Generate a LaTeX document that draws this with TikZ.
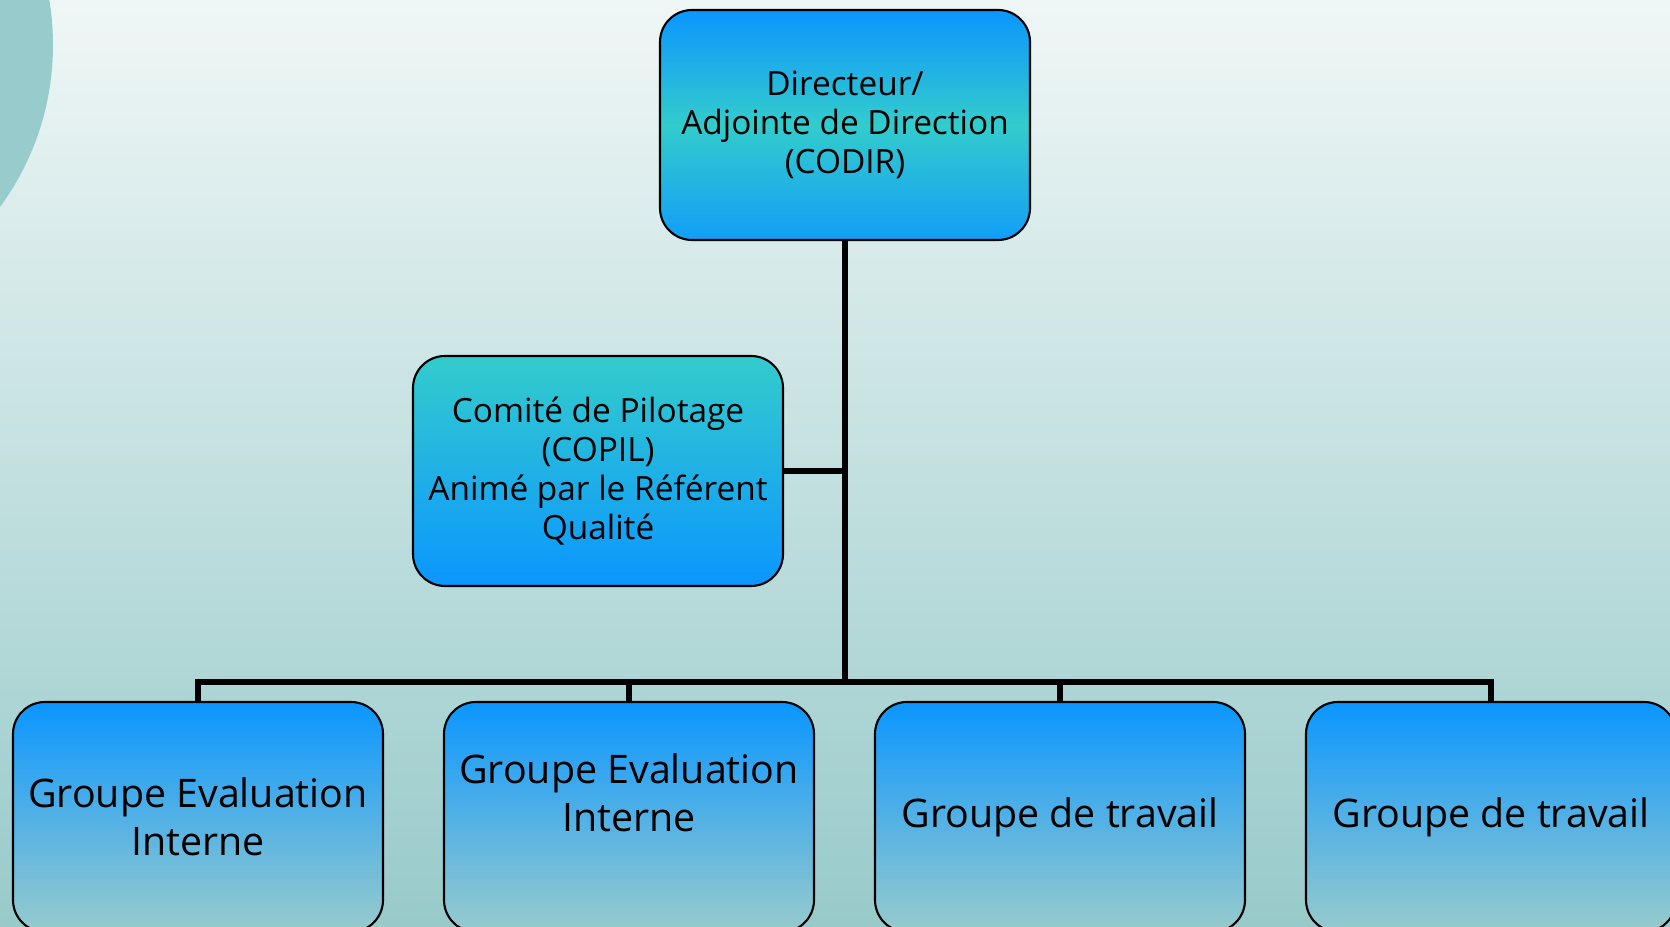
\documentclass[tikz,border=0pt]{standalone}
\usepackage{fontspec}
\setmainfont{Open Sans}
\usepackage{tikz}
\usetikzlibrary{positioning}
\definecolor{bgtop}{HTML}{EFF7F6}
\definecolor{bgbottom}{HTML}{98CACA}
\definecolor{orgblue}{HTML}{0B96FF}
\definecolor{orgteal}{HTML}{33CCCC}
\definecolor{orggrey}{HTML}{98CBCC}
\tikzset{
  orgbox/.style={draw=black, line width=0.6pt, rounded corners=3.2mm,
    minimum width=37mm, minimum height=23mm, align=center, inner sep=1pt},
  headbox/.style={orgbox, top color=orgblue, bottom color=orgblue!85!orgteal,
    middle color=orgteal, font=\fontsize{9.5}{11.1}\selectfont},
  copilbox/.style={orgbox, top color=orgteal, bottom color=orgblue,
    font=\fontsize{9.5}{11.1}\selectfont},
  groupbox/.style={orgbox, top color=orgblue, bottom color=orggrey,
    font=\fontsize{11.2}{13.7}\selectfont},
  link/.style={line width=1.7pt}
}

\begin{document}
\begin{tikzpicture}[x=0.1mm,y=-0.1mm]
  \useasboundingbox (0,0) rectangle (1670,927);
  \clip (0,0) rectangle (1670,927);
  % background
  \shade[top color=bgtop, bottom color=bgbottom] (0,0) rectangle (1670,927);
  \fill[orggrey] (-221,45) circle (27.4mm);

  \node[headbox] (dir) at (845,125) {Directeur/\\Adjointe de Direction\\(CODIR)};
  \node[copilbox] (copil) at (598,471) {Comité de Pilotage\\(COPIL)\\ Animé par le Référent\\Qualité};
  \node[groupbox] (g1) at (198,817) {Groupe Evaluation\\Interne};
  \node[groupbox] (g2) at (629,817) {Groupe Evaluation\\Interne\\\mbox{}};
  \node[groupbox] (g3) at (1060,817) {Groupe de travail};
  \node[groupbox] (g4) at (1491,817) {Groupe de travail};

  % connectors
  \coordinate (bus) at (845,682);
  \draw[link] (dir.south) -- (bus);
  \draw[link] (copil.east) -- (copil.east -| dir.south);
  \draw[link] (g1.north) |- (bus) -| (g4.north);
  \draw[link] (g2.north) -- (g2.north |- bus);
  \draw[link] (g3.north) -- (g3.north |- bus);
\end{tikzpicture}
\end{document}
